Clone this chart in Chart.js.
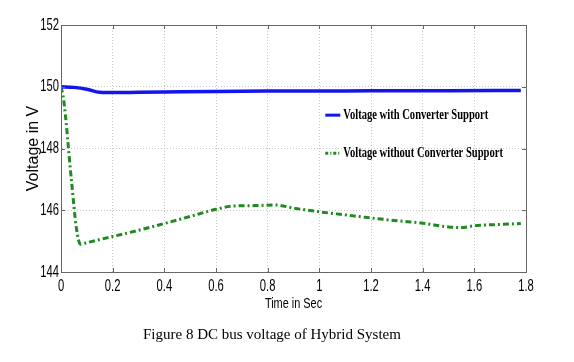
<!DOCTYPE html>
<html lang="en">
<head>
<meta charset="UTF-8">
<title>DC bus voltage of Hybrid System</title>
<script src="https://cdn.jsdelivr.net/npm/chart.js"></script>
<style>
  body { margin: 0; background: #fff; }
  #wrap { position: relative; width: 574px; height: 362px; }
  #caption { position: absolute; left: 143px; top: 326px; font: 15px "Liberation Serif", "Times New Roman", serif; color: #000; white-space: nowrap; }
</style>
</head>
<body>
<div id="wrap">
  <canvas id="c" width="574" height="362"></canvas>
  <div id="caption">Figure 8 DC bus voltage of Hybrid System</div>
</div>
<script>
// time (s) and voltage (V)
const timeWith = [0, 0.05, 0.1, 0.15, 0.2, 0.3, 0.4, 0.6, 0.8, 1.0, 1.2, 1.5, 1.78];
const voltWith = [150, 149.98, 149.92, 149.82, 149.81, 149.82, 149.83, 149.85, 149.86, 149.86, 149.87, 149.87, 149.88];

const timeWithout = [0, 0.01, 0.04, 0.06, 0.075, 0.1, 0.2, 0.3, 0.4, 0.5, 0.6, 0.66, 0.75, 0.83, 0.9, 1.0, 1.1, 1.2, 1.3, 1.4, 1.5, 1.55, 1.6, 1.7, 1.78];
const voltWithout = [150, 149.6, 147.0, 145.4, 144.9, 144.95, 145.15, 145.35, 145.57, 145.8, 146.03, 146.13, 146.15, 146.17, 146.07, 145.95, 145.85, 145.75, 145.66, 145.58, 145.46, 145.44, 145.5, 145.54, 145.57];

const seriesNames = ['Voltage with Converter Support', 'Voltage without Converter Support'];
const xTicks = [0, 0.2, 0.4, 0.6, 0.8, 1, 1.2, 1.4, 1.6, 1.8];
const xTickLabels = ['0', '0.2', '0.4', '0.6', '0.8', '1', '1.2', '1.4', '1.6', '1.8'];
const yTicks = [144, 146, 148, 150, 152];
const xTitle = 'Time in Sec';

const toXY = (ts, vs) => ts.map((t, i) => ({ x: t, y: vs[i] }));

// squeezed text, like the narrow labels of the original plot
function narrowText(ctx, text, x, y, squeeze, align) {
  ctx.save();
  ctx.translate(x, y);
  ctx.scale(squeeze, 1);
  ctx.textAlign = align;
  ctx.textBaseline = 'middle';
  ctx.fillText(text, 0, 0);
  ctx.restore();
}

// box round the plot, inward ticks, tick labels and the legend inside the plot
const boxPlugin = {
  id: 'box',
  afterDraw(chart) {
    const { ctx, chartArea: a, scales } = chart;
    ctx.save();
    ctx.strokeStyle = '#666';
    ctx.lineWidth = 1;
    ctx.strokeRect(a.left + 0.5, a.top + 0.5, a.right - a.left, a.bottom - a.top);
    ctx.beginPath();
    yTicks.forEach(v => {
      const y = Math.round(scales.y.getPixelForValue(v)) + 0.5;
      ctx.moveTo(a.right, y); ctx.lineTo(a.right - 4, y);
      ctx.moveTo(a.left, y); ctx.lineTo(a.left + 4, y);
    });
    xTicks.forEach(v => {
      const x = Math.round(scales.x.getPixelForValue(v)) + 0.5;
      ctx.moveTo(x, a.bottom); ctx.lineTo(x, a.bottom - 4);
      ctx.moveTo(x, a.top); ctx.lineTo(x, a.top + 4);
    });
    ctx.stroke();

    // tick labels and x title
    ctx.fillStyle = '#000';
    ctx.font = '17px "Liberation Sans", Arial, sans-serif';
    yTicks.forEach(v => narrowText(ctx, String(v), a.left - 2, scales.y.getPixelForValue(v), 0.66, 'right'));
    xTicks.forEach((v, i) => narrowText(ctx, xTickLabels[i], scales.x.getPixelForValue(v), a.bottom + 14, 0.66, 'center'));
    ctx.font = '14px "Liberation Sans", Arial, sans-serif';
    narrowText(ctx, xTitle, (a.left + a.right) / 2, a.bottom + 32, 0.78, 'center');

    // legend
    const lx = scales.x.getPixelForValue(1.023);
    const rows = [scales.y.getPixelForValue(149.08), scales.y.getPixelForValue(147.85)];
    ctx.font = 'bold 15px "Liberation Serif", "Times New Roman", serif';
    const squeeze = 145 / ctx.measureText(seriesNames[0]).width;
    chart.data.datasets.forEach((ds, i) => {
      const y = rows[i];
      ctx.strokeStyle = ds.borderColor;
      ctx.lineWidth = 3;
      ctx.setLineDash(i === 0 ? [] : [3, 2, 1, 2]);
      ctx.beginPath();
      ctx.moveTo(lx, y); ctx.lineTo(lx + 15, y);
      ctx.stroke();
      ctx.setLineDash([]);
      narrowText(ctx, seriesNames[i], lx + 18, y, squeeze, 'left');
    });
    ctx.restore();
  }
};

new Chart(document.getElementById('c'), {
  type: 'line',
  data: {
    datasets: [
      {
        label: seriesNames[0],
        data: toXY(timeWith, voltWith),
        borderColor: '#1414ee',
        borderWidth: 3.5,
        pointRadius: 0,
        cubicInterpolationMode: 'monotone'
      },
      {
        label: seriesNames[1],
        data: toXY(timeWithout, voltWithout),
        borderColor: '#1f8a1f',
        borderWidth: 3,
        borderDash: [6, 3, 2, 3],
        pointRadius: 0,
        cubicInterpolationMode: 'monotone'
      }
    ]
  },
  options: {
    responsive: false,
    animation: false,
    layout: { padding: { left: 24, top: 25, right: 48, bottom: 50 } },
    plugins: { legend: { display: false }, tooltip: { enabled: false } },
    scales: {
      x: {
        type: 'linear',
        min: 0, max: 1.8,
        afterBuildTicks: s => { s.ticks = xTicks.map(v => ({ value: v })); },
        afterFit: s => { s.height = 40; },
        ticks: { display: false },
        grid: { color: '#c8c8c8', drawTicks: false },
        border: { color: '#666', dash: [1, 2] }
      },
      y: {
        min: 144, max: 152,
        afterBuildTicks: s => { s.ticks = yTicks.map(v => ({ value: v })); },
        afterFit: s => { s.width = 37; },
        ticks: { display: false },
        grid: { color: '#c8c8c8', drawTicks: false },
        border: { color: '#666', dash: [1, 2] },
        title: { display: true, text: 'Voltage in V', color: '#000', padding: 0,
                 font: { family: 'Liberation Sans, Arial, sans-serif', size: 16 } }
      }
    }
  },
  plugins: [boxPlugin]
});
</script>
</body>
</html>
